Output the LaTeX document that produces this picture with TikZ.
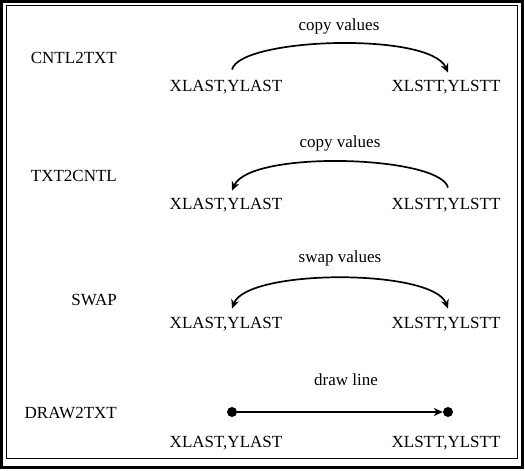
\documentclass[tikz,border=0pt]{standalone}
\usepackage{fontspec}
\setmainfont{Liberation Serif}
\usetikzlibrary{positioning, arrows.meta}

\begin{document}
\begin{tikzpicture}
    [
        x=1pt, y=-1pt,
        txt/.style={anchor=base, inner sep=0pt, font=\fontsize{17}{20}\selectfont},
        cmd/.style={txt, anchor=base east},
        dot/.style={circle, fill, inner sep=0pt, minimum size=10pt},
        flow/.style={line width=1.7pt, -{Stealth[length=9pt, width=8pt]}},
        swapflow/.style={line width=1.7pt, {Stealth[length=9pt, width=8pt]}-{Stealth[length=9pt, width=8pt]}}
    ]
        \useasboundingbox (0,0) rectangle (525,471);
        % =========================================================================
        % FRAME
        % =========================================================================
        \draw [line width=3pt] (1.5,1.5) rectangle (522.5,467);
        \draw [line width=1pt] (6.5,5.5) rectangle (517,458);

        % =========================================================================
        % NODES
        % =========================================================================
        % --- Row 1 ---
        \node [cmd] (cmd1) at (117,63) {CNTL2TXT};
        \node [txt] (op1) at (339,30) {copy values};
        \node [txt] (xl1) at (226,91) {XLAST,YLAST};
        \node [txt] (xs1) at (446,91) {XLSTT,YLSTT};
        % --- Row 2 ---
        \node [cmd] (cmd2) at (117,181) {TXT2CNTL};
        \node [txt] (op2) at (340,147) {copy values};
        \node [txt] (xl2) at (226,209) {XLAST,YLAST};
        \node [txt] (xs2) at (446,209) {XLSTT,YLSTT};
        % --- Row 3 ---
        \node [cmd] (cmd3) at (117,305) {SWAP};
        \node [txt] (op3) at (340,262) {swap values};
        \node [txt] (xl3) at (226,328) {XLAST,YLAST};
        \node [txt] (xs3) at (446,328) {XLSTT,YLSTT};
        % --- Row 4 ---
        \node [cmd] (cmd4) at (117,418) {DRAW2TXT};
        \node [txt] (op4) at (346,385) {draw line};
        \node [txt] (xl4) at (226,447) {XLAST,YLAST};
        \node [txt] (xs4) at (446,447) {XLSTT,YLSTT};
        \node [dot] (d1) at (232,412) {};
        \node [dot] (d2) at (448,412) {};

        % =========================================================================
        % PATHS
        % =========================================================================
        %  Row 1
        \draw [flow] ([xshift=6pt, yshift=10pt]xl1.north)
            .. controls +(8,-32) and +(-18,-41) .. ([xshift=2pt, yshift=7pt]xs1.north);
        %  Row 2
        \draw [flow] ([xshift=2pt, yshift=10pt]xs2.north)
            .. controls +(-8,-32) and +(18,-41) .. ([xshift=6pt, yshift=7pt]xl2.north);
        %  Row 3
        \draw [swapflow] ([xshift=6pt, yshift=8pt]xl3.north)
            .. controls +(15,-40) and +(-15,-40) .. ([xshift=2pt, yshift=8pt]xs3.north);
        %  Row 4
        \draw [flow] (d1) -- (d2);

    \end{tikzpicture}
\end{document}
